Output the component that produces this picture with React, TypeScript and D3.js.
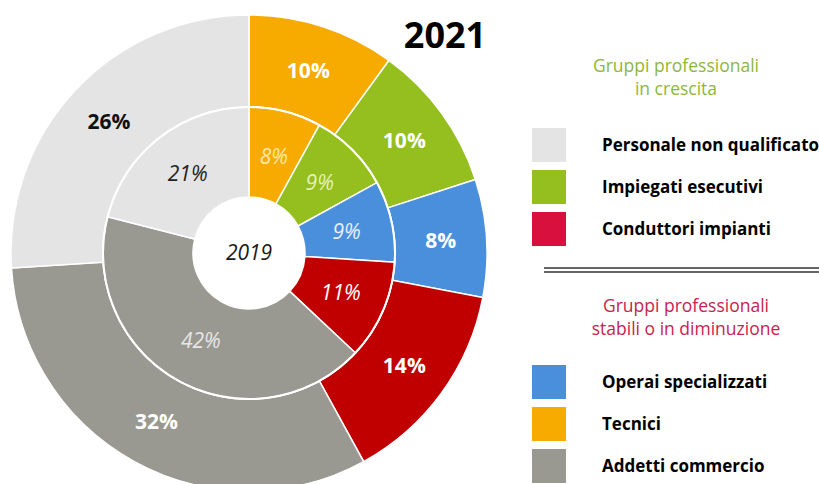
import React, { useEffect, useRef } from 'react';
import * as d3 from 'd3';

// segments go clockwise from 12 o'clock
const groups = ['Tecnici', 'Impiegati esecutivi', 'Operai specializzati', 'Conduttori impianti', 'Addetti commercio', 'Personale non qualificato'];
const values2021 = [10, 10, 8, 14, 32, 26];
const values2019 = [8, 9, 9, 11, 42, 21];
const sliceColors = ['#F7AB00', '#95BF1F', '#4A8FDB', '#C00000', '#9A9991', '#E4E4E4'];
const outerLabelColors = ['#fff', '#fff', '#fff', '#fff', '#fff', '#111'];
const innerLabelColors = ['#FFE8A6', '#E4F2B8', '#E8F0FF', '#FFFFFF', '#E6E6E6', '#222'];

const growingTitle = ['Gruppi professionali', 'in crescita'];
const growingItems = ['Personale non qualificato', 'Impiegati esecutivi', 'Conduttori impianti'];
const growingColors = ['#E4E4E4', '#95BF1F', '#D7103E'];
const stableTitle = ['Gruppi professionali', 'stabili o in diminuzione'];
const stableItems = ['Operai specializzati', 'Tecnici', 'Addetti commercio'];
const stableColors = ['#4A8FDB', '#F7AB00', '#9A9991'];

const FONT = '"Open Sans", "Noto Sans", sans-serif';

export default function App() {
  const svgRef = useRef<SVGSVGElement>(null);

  useEffect(() => {
    if (!svgRef.current) return;
    const svg = d3.select(svgRef.current);
    svg.selectAll('*').remove();

    const cx = 249;
    const cy = 253;
    const g = svg.append('g').attr('transform', `translate(${cx},${cy})`);

    const pie = d3.pie<number>().sort(null).value(d => d);

    const rings = [
      { values: values2021, inner: 146, outer: 238, labelR: 192, colors: outerLabelColors, size: 21, weight: 'bold', style: 'normal' },
      { values: values2019, inner: 56, outer: 146, labelR: 100, colors: innerLabelColors, size: 21, weight: 'normal', style: 'italic' }
    ];

    rings.forEach(ring => {
      const arcs = pie(ring.values);
      const arc = d3.arc<d3.PieArcDatum<number>>()
        .innerRadius(ring.inner)
        .outerRadius(ring.outer);
      const labelArc = d3.arc<d3.PieArcDatum<number>>()
        .innerRadius(ring.labelR)
        .outerRadius(ring.labelR);

      g.append('g')
        .selectAll('path')
        .data(arcs)
        .enter()
        .append('path')
        .attr('d', arc)
        .attr('fill', (d, i) => sliceColors[i])
        .attr('stroke', '#fff')
        .attr('stroke-width', 1.5);

      g.append('g')
        .selectAll('text')
        .data(arcs)
        .enter()
        .append('text')
        .attr('transform', d => `translate(${labelArc.centroid(d)})`)
        .attr('text-anchor', 'middle')
        .attr('dy', '0.35em')
        .style('font-family', FONT)
        .style('font-size', `${ring.size}px`)
        .style('font-weight', ring.weight)
        .style('font-style', ring.style)
        .attr('fill', (d, i) => ring.colors[i])
        .text(d => `${d.data}%`);
    });

    // ring separator
    g.append('circle')
      .attr('r', 146)
      .attr('fill', 'none')
      .attr('stroke', '#fff')
      .attr('stroke-width', 2);

    g.append('text')
      .attr('text-anchor', 'middle')
      .attr('dy', '0.35em')
      .style('font-family', FONT)
      .style('font-size', '21px')
      .style('font-style', 'italic')
      .attr('fill', '#1a1a1a')
      .text('2019');

    // Title
    svg.append('text')
      .attr('x', 445)
      .attr('y', 48)
      .attr('text-anchor', 'middle')
      .style('font-family', FONT)
      .style('font-size', '36px')
      .style('font-weight', 'bold')
      .attr('fill', '#000')
      .text('2021');

    // Legend
    const legendBlock = (title: string[], titleColor: string, titleX: number, titleY: number,
      items: string[], colors: string[], firstBoxY: number) => {
      title.forEach((t, i) => {
        svg.append('text')
          .attr('x', titleX)
          .attr('y', titleY + i * 23)
          .attr('text-anchor', 'middle')
          .style('font-family', FONT)
          .style('font-size', '17.5px')
          .style('font-weight', 500)
          .attr('fill', titleColor)
          .text(t);
      });
      items.forEach((t, i) => {
        const y = firstBoxY + i * 42;
        svg.append('rect')
          .attr('x', 532)
          .attr('y', y)
          .attr('width', 34)
          .attr('height', 34)
          .attr('fill', colors[i]);
        svg.append('text')
          .attr('x', 602)
          .attr('y', y + 17)
          .attr('dy', '0.35em')
          .style('font-family', FONT)
          .style('font-size', '17px')
          .style('font-weight', 'bold')
          .attr('fill', '#000')
          .text(t);
      });
    };

    legendBlock(growingTitle, '#8CB73C', 676, 72, growingItems, growingColors, 128);

    svg.append('line').attr('x1', 544).attr('x2', 819).attr('y1', 268).attr('y2', 268)
      .attr('stroke', '#333').attr('stroke-width', 1.5);
    svg.append('line').attr('x1', 544).attr('x2', 819).attr('y1', 272).attr('y2', 272)
      .attr('stroke', '#333').attr('stroke-width', 1.5);

    legendBlock(stableTitle, '#C6234E', 686, 312, stableItems, stableColors, 365);
  }, []);

  return (
    <svg
      ref={svgRef}
      width={819}
      height={484}
      style={{ position: 'absolute', left: 0, top: 0, background: '#fff' }}
    ></svg>
  );
}
